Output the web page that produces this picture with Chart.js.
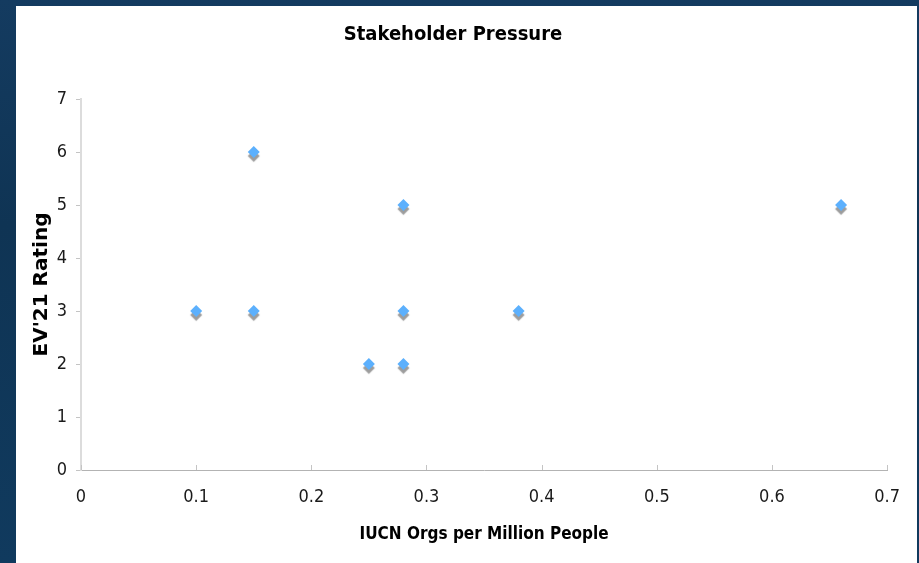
<!DOCTYPE html>
<html>
<head>
<meta charset="utf-8">
<title>Stakeholder Pressure</title>
<script src="https://cdn.jsdelivr.net/npm/chart.js@4/dist/chart.umd.min.js"></script>
<style>
  html, body { margin: 0; padding: 0; }
  body {
    width: 919px; height: 563px; overflow: hidden;
    background: linear-gradient(180deg, #143b60 0%, #0f3454 40%, #103a5e 100%);
    position: relative;
  }
  #panel {
    position: absolute; left: 16px; top: 6px; width: 901px; height: 557px;
    background: #ffffff;
  }
  canvas { display: block; }
</style>
</head>
<body>
<div id="panel"><canvas id="chart" width="901" height="557"></canvas></div>
<script>
// IUCN organisations per million people vs. EV'21 rating
const orgsPerMillion = [0.1, 0.15, 0.15, 0.25, 0.28, 0.28, 0.28, 0.38, 0.66];
const ev21Rating     = [3,   6,    3,    2,    5,    3,    2,    3,    5];

const chartTitle = 'Stakeholder Pressure';
const xAxisTitle = 'IUCN Orgs per Million People';
const yAxisTitle = "EV'21 Rating";

const FONT = '"DejaVu Sans Condensed", "DejaVu Sans", sans-serif';
const FONT_WIDE = '"DejaVu Sans", Verdana, sans-serif';

// Soft drop shadow under each marker
const markerShadow = {
  id: 'markerShadow',
  beforeDatasetDraw(chart) {
    const ctx = chart.ctx;
    ctx.save();
    ctx.shadowColor = 'rgba(140,140,140,0.85)';
    ctx.shadowOffsetX = 0;
    ctx.shadowOffsetY = 4;
    ctx.shadowBlur = 1;
  },
  afterDatasetDraw(chart) {
    chart.ctx.restore();
  }
};

// Short tick marks pointing up from the x axis into the plot
const innerXTicks = {
  id: 'innerXTicks',
  afterDatasetsDraw(chart) {
    const x = chart.scales.x;
    const ctx = chart.ctx;
    ctx.save();
    ctx.strokeStyle = '#c4c4c4';
    ctx.lineWidth = 1;
    x.ticks.forEach(t => {
      const px = Math.round(x.getPixelForValue(t.value)) + 0.5;
      ctx.beginPath();
      ctx.moveTo(px, x.top);
      ctx.lineTo(px, x.top - 5);
      ctx.stroke();
    });
    ctx.restore();
  }
};

new Chart(document.getElementById('chart'), {
  type: 'scatter',
  data: {
    datasets: [{
      data: orgsPerMillion.map((v, i) => ({ x: v, y: ev21Rating[i] })),
      pointStyle: 'rectRot',
      pointRadius: 6,
      pointHoverRadius: 6,
      backgroundColor: '#5cb0fd',
      borderColor: '#5cb0fd',
      borderWidth: 0
    }]
  },
  plugins: [markerShadow, innerXTicks],
  options: {
    responsive: false,
    animation: false,
    layout: { padding: { left: 0, right: 27, top: 0, bottom: 0 } },
    plugins: {
      legend: { display: false },
      tooltip: { enabled: false },
      title: {
        display: true,
        text: chartTitle,
        color: '#000',
        font: { family: FONT, size: 20, weight: 'bold' },
        padding: { top: 17, bottom: 52 }
      }
    },
    scales: {
      x: {
        type: 'linear',
        min: 0, max: 0.7,
        afterFit(scale) { scale.height = 93; },
        ticks: {
          stepSize: 0.1,
          color: '#1a1a1a',
          font: { family: FONT, size: 18 },
          padding: 17,
          callback: v => String(Math.round(v * 10) / 10)
        },
        grid: { display: true, drawOnChartArea: false, drawTicks: false },
        border: { display: true, color: '#b3b3b3', width: 1 },
        title: {
          display: true,
          text: xAxisTitle,
          color: '#000',
          font: { family: FONT, size: 17, weight: 'bold' },
          padding: { top: 0, bottom: 18 }
        }
      },
      y: {
        type: 'linear',
        min: 0, max: 7,
        afterFit(scale) { scale.width = 65; },
        ticks: {
          stepSize: 1,
          color: '#1a1a1a',
          font: { family: FONT, size: 18 },
          padding: 9
        },
        grid: { display: true, drawOnChartArea: false, drawTicks: true, tickLength: 5, color: '#c4c4c4' },
        border: { display: true, color: '#dcdcdc', width: 2 },
        title: {
          display: true,
          text: yAxisTitle,
          color: '#000',
          font: { family: FONT_WIDE, size: 20, weight: 'bold' },
          padding: { top: 14, bottom: 0 }
        }
      }
    }
  }
});
</script>
</body>
</html>
